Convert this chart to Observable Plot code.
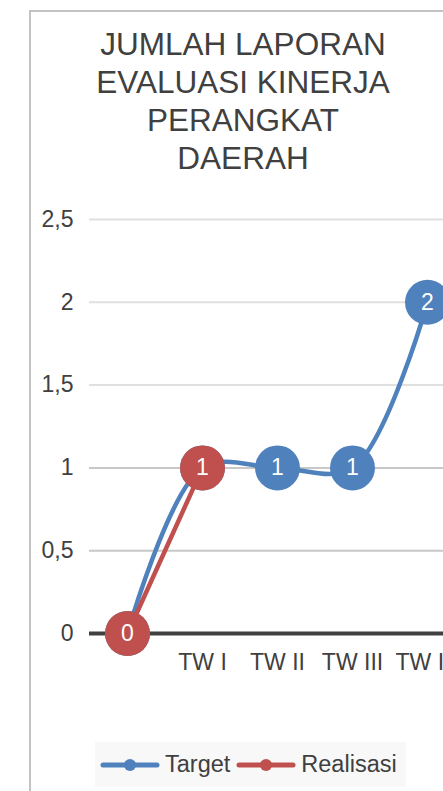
<!DOCTYPE html>
<html>
<head>
<meta charset="utf-8">
<script src="https://cdn.jsdelivr.net/npm/d3@7"></script>
<script src="https://cdn.jsdelivr.net/npm/@observablehq/plot@0.6"></script>
<style>
  html, body { margin: 0; padding: 0; background: #fff; }
  body { width: 443px; height: 791px; overflow: hidden; position: relative; font-family: "Liberation Sans", Arial, sans-serif; color: #404040; }
  #frame { position: absolute; left: 29px; top: 10px; width: 440px; height: 800px; border-left: 2px solid #c3c3c3; border-top: 2px solid #c3c3c3; }
  #title { position: absolute; left: 43px; top: 25px; width: 400px; text-align: center; font-size: 31.5px; line-height: 38px; color: #404040; }
  #chart { position: absolute; left: 0; top: 190px; width: 480px; }
  #chart svg { max-width: none !important; }
  #legend { position: absolute; left: 95px; top: 742px; width: 311px; height: 45px; background: #f8f8f8; display: flex; align-items: center; padding-left: 5px; box-sizing: border-box; font-size: 23.5px; color: #404040; }
  .item { display: flex; align-items: center; margin-right: 6px; }
  .item svg { margin-right: 5px; }
</style>
</head>
<body>
<div id="frame"></div>
<div id="title">JUMLAH LAPORAN<br>EVALUASI KINERJA<br>PERANGKAT<br>DAERAH</div>
<div id="chart"></div>
<div id="legend"></div>
<script>
const categories = ["", "TW I", "TW II", "TW III", "TW IV"];
const target = [0, 1, 1, 1, 2];
const realisasi = [0, 1];
const yTicks = [0, 0.5, 1, 1.5, 2, 2.5];
const seriesNames = ["Target", "Realisasi"];
const seriesColors = ["#4F81BD", "#C0504D"];

const targetData = target.map((v, i) => ({cat: categories[i], v}));
const realData = realisasi.map((v, i) => ({cat: categories[i], v}));

const fmt = d => String(d).replace(".", ",");

const chart = Plot.plot({
  width: 480,
  height: 493,
  marginLeft: 89,
  marginRight: 16,
  marginTop: 29,
  marginBottom: 50,
  style: {fontFamily: "Liberation Sans, Arial, sans-serif", overflow: "visible", background: "transparent", maxWidth: "none"},
  x: {type: "point", domain: categories, padding: 0.5, label: null},
  y: {domain: [0, 2.5], label: null},
  marks: [
    Plot.gridY(yTicks, {stroke: d => d < 1.5 ? "#c8c8c8" : "#e0e0e0", strokeOpacity: 1, strokeWidth: 2}),
    Plot.ruleY([0], {stroke: "#404040", strokeWidth: 4}),
    Plot.axisY(yTicks, {tickSize: 0, tickPadding: 16, tickFormat: fmt, fontSize: 23, fill: "#404040", label: null}),
    Plot.axisX(categories, {tickSize: 0, tickPadding: 20, fontSize: 23, fill: "#404040", label: null}),
    Plot.line(targetData, {x: "cat", y: "v", stroke: seriesColors[0], strokeWidth: 4.5, curve: "catmull-rom"}),
    Plot.dot(targetData, {x: "cat", y: "v", r: 22.5, fill: seriesColors[0], stroke: null}),
    Plot.line(realData, {x: "cat", y: "v", stroke: seriesColors[1], strokeWidth: 4.5}),
    Plot.dot(realData, {x: "cat", y: "v", r: 22.5, fill: seriesColors[1], stroke: null}),
    Plot.text(targetData.slice(realData.length), {x: "cat", y: "v", text: d => fmt(d.v), fill: "white", fontSize: 23}),
    Plot.text(realData, {x: "cat", y: "v", text: d => fmt(d.v), fill: "white", fontSize: 23})
  ]
});
document.getElementById("chart").appendChild(chart);

const legend = document.getElementById("legend");
seriesNames.forEach((name, i) => {
  const item = document.createElement("div");
  item.className = "item";
  item.innerHTML = `<svg width="60" height="14"><line x1="3" y1="7" x2="57" y2="7" stroke="${seriesColors[i]}" stroke-width="5" stroke-linecap="round"/><circle cx="30" cy="7" r="6" fill="${seriesColors[i]}"/></svg><span>${name}</span>`;
  legend.appendChild(item);
});
</script>
</body>
</html>
